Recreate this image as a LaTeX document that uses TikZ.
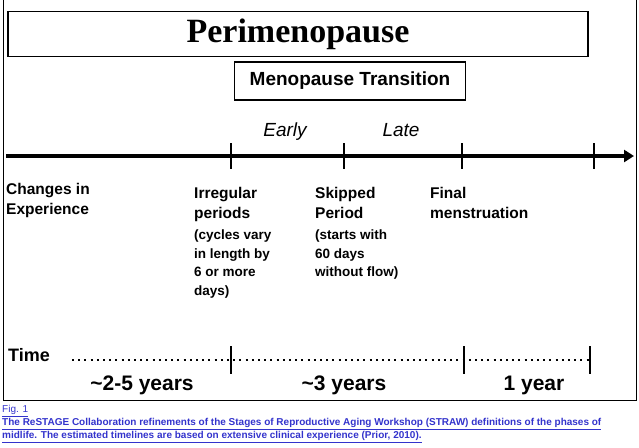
\documentclass[tikz,border=0pt]{standalone}
\usepackage{fontspec}
\setmainfont{Liberation Sans}
\newfontfamily\titlefont{Liberation Serif}
\usetikzlibrary{positioning, arrows.meta, calc}
\definecolor{linkblue}{HTML}{3333CC}
\tikzset{
  label/.style={font=\bfseries\fontsize{15.5}{20.5}\selectfont, anchor=north west, align=left, inner sep=0pt},
  note/.style={font=\bfseries\fontsize{13.5}{18.5}\selectfont, anchor=north west, align=left, inner sep=0pt},
  span/.style={font=\bfseries\fontsize{21}{22}\selectfont},
  tick/.style={line width=2pt},
  caption/.style={font=\bfseries\fontsize{10}{13}\selectfont, text=linkblue, anchor=north west, inner sep=0pt}
}
\begin{document}
\begin{tikzpicture}[x=1pt,y=-1pt]
  \useasboundingbox (0,0) rectangle (639,447);
  \draw[line width=1pt] (3,-2) rectangle (636,400);
  % boxes
  \node[draw, line width=1.5pt, minimum width=580pt, minimum height=45pt,
        font=\titlefont\bfseries\fontsize{34}{36}\selectfont] (peri) at (298,34) {Perimenopause};
  \node[draw, line width=1.5pt, minimum width=231pt, minimum height=38pt,
        font=\bfseries\fontsize{19}{20}\selectfont] (trans) at (350,81) {Menopause Transition};
  \node[font=\itshape\fontsize{19}{20}\selectfont] (early) at (285,132) {Early};
  \node[font=\itshape\fontsize{19}{20}\selectfont] (late) at (401,130) {Late};
  % main axis
  \coordinate (a0) at (6,156);
  \coordinate (a1) at (634,156);
  \draw[line width=3.5pt, -{Triangle[length=10pt,width=12pt]}] (a0) -- (a1);
  \foreach \x/\n in {231/t1, 344/t2, 462/t3, 594/t4} {
    \coordinate (\n) at (\x,156);
    \draw[tick] ($(\n)+(0,-13)$) -- ($(\n)+(0,13)$);
  }
  % stages
  \node[label] (chg) at (6,183) {Changes in\\Experience};
  \node[label] (irr) at (194,187) {Irregular\\periods};
  \node[note] (irrn) at (194,230) {(cycles vary\\in length by\\6 or more\\days)};
  \node[label] (skp) at (315,187) {Skipped\\Period};
  \node[note] (skpn) at (315,230) {(starts with\\60 days\\without flow)};
  \node[label] (fin) at (430,187) {Final\\menstruation};
  % time line
  \node[label, font=\bfseries\fontsize{18}{19}\selectfont] (time) at (8,348) {Time};
  \coordinate (d0) at (72,360);
  \coordinate (d3) at (590,360);
  \draw[line width=2pt, dash pattern=on 2pt off 4.2pt] (d0) -- (d3);
  \foreach \x/\n in {231/s1, 464/s2, 590/s3} {
    \coordinate (\n) at (\x,360);
    \draw[line width=1.2pt] ($(\n)+(0,-14)$) -- ($(\n)+(0,14)$);
  }
  \node[span] (y1) at (142,385) {\textasciitilde2-5 years};
  \node[span] (y2) at (344,385) {\textasciitilde3 years};
  \node[span] (y3) at (534,385) {1 year};
  % caption
  \node[caption, font=\fontsize{10}{13}\selectfont] (fig) at (2,405) {\underline{Fig. 1}};
  \node[caption] (cap1) at (2,418) {\underline{The ReSTAGE Collaboration refinements of the Stages of Reproductive Aging Workshop (STRAW) definitions of the phases of}};
  \node[caption] (cap2) at (2,431) {\underline{midlife. The estimated timelines are based on extensive clinical experience (Prior, 2010).}};
\end{tikzpicture}
\end{document}
